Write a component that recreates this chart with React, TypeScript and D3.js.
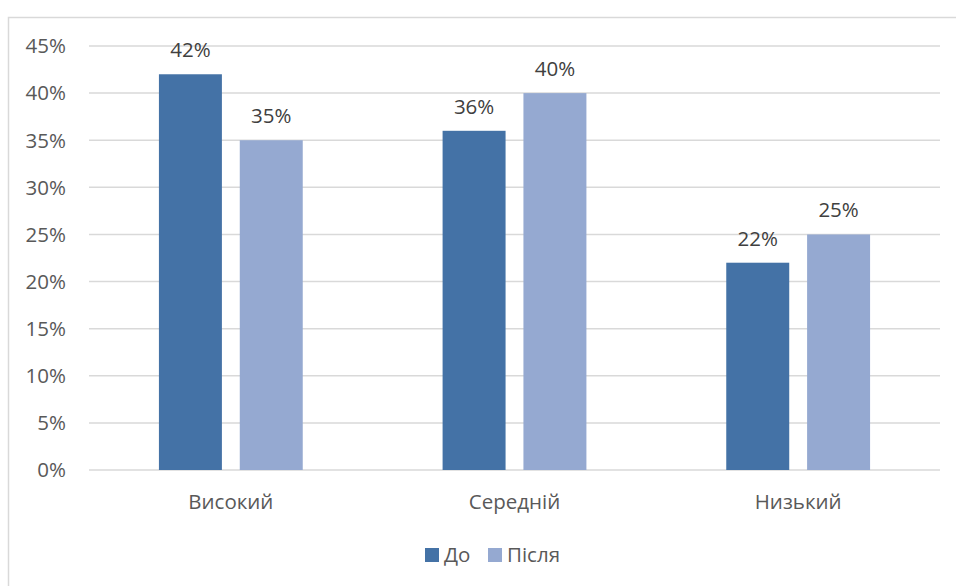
import React from "react";
import * as d3 from "d3";

const categories = ["Високий", "Середній", "Низький"];
const seriesNames = ["До", "Після"];
const before = [42, 36, 22];
const after = [35, 40, 25];
const yTicks = [0, 5, 10, 15, 20, 25, 30, 35, 40, 45];

const W = 956;
const H = 586;
const plot = { left: 89, right: 940, top: 46, bottom: 470 };
const colors = ["#4472A6", "#95A9D1"];
const textColor = "#595959";
const gridColor = "#D9D9D9";
const font = "'Open Sans', 'Noto Sans', sans-serif";
const fs = 20.5;

export default function App() {
  const x = d3.scaleBand<string>().domain(categories).range([plot.left, plot.right]);
  const y = d3.scaleLinear().domain([0, 45]).range([plot.bottom, plot.top]);
  const bw = x.bandwidth();
  const barW = bw * 0.222;
  const gap = bw * 0.063;
  const inner = d3
    .scaleOrdinal<string, number>()
    .domain(seriesNames)
    .range([-gap / 2 - barW, gap / 2]);

  const series = [before, after];

  return (
    <div style={{ position: "absolute", left: 0, top: 0 }}>
      <svg width={W} height={H} style={{ display: "block", fontFamily: font }}>
        <rect x={0} y={0} width={W} height={H} fill="#fff" />
        {/* chart frame */}
        <path d={`M8.5,${H} V17.5 H${W}`} fill="none" stroke={gridColor} strokeWidth={1.5} />
        {/* gridlines and y-axis labels */}
        {yTicks.map((t) => (
          <g key={t}>
            <line x1={plot.left} x2={plot.right} y1={y(t)} y2={y(t)} stroke={gridColor} strokeWidth={1.5} />
            <text x={66} y={y(t)} dy="0.36em" textAnchor="end" fontSize={fs} fill={textColor}>
              {`${t}%`}
            </text>
          </g>
        ))}
        {/* bars with value labels */}
        {series.map((vals, si) =>
          vals.map((v, ci) => {
            const bx = (x(categories[ci]) as number) + bw / 2 + (inner(seriesNames[si]) as number);
            return (
              <g key={`${si}-${ci}`}>
                <rect x={bx} y={y(v)} width={barW} height={y(0) - y(v)} fill={colors[si]} />
                <text x={bx + barW / 2} y={y(v) - 17} textAnchor="middle" fontSize={fs} fill="#404040">
                  {`${v}%`}
                </text>
              </g>
            );
          })
        )}
        {/* category labels */}
        {categories.map((c) => (
          <text key={c} x={(x(c) as number) + bw / 2} y={509} textAnchor="middle" fontSize={fs} fill={textColor}>
            {c}
          </text>
        ))}
        {/* legend */}
        <g>
          <rect x={425} y={548} width={14} height={14} fill={colors[0]} />
          <text x={444} y={562} fontSize={fs} fill={textColor}>{seriesNames[0]}</text>
          <rect x={488} y={548} width={14} height={14} fill={colors[1]} />
          <text x={507} y={562} fontSize={fs} fill={textColor}>{seriesNames[1]}</text>
        </g>
      </svg>
    </div>
  );
}
